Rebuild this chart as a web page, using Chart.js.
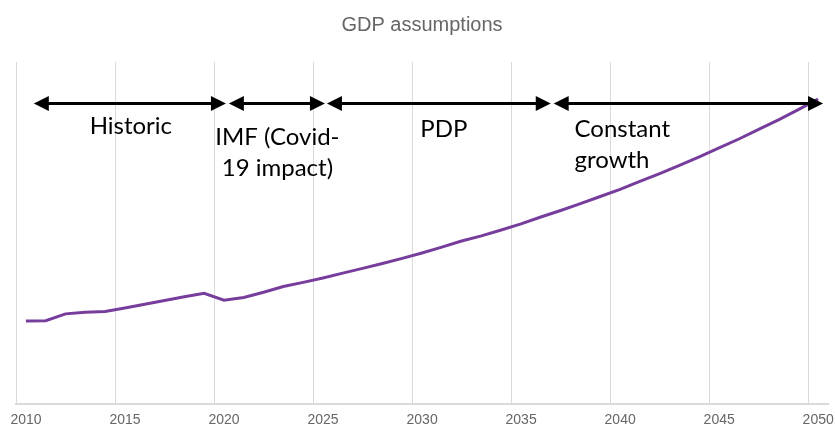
<!DOCTYPE html>
<html>
<head>
<meta charset="utf-8">
<title>GDP assumptions</title>
<script src="https://cdn.jsdelivr.net/npm/chart.js@4.4.1/dist/chart.umd.min.js"></script>
<style>
    html, body { margin: 0; padding: 0; background: #ffffff; }
    #wrap { width: 835px; height: 425px; }
</style>
</head>
<body>
<div id="wrap"><canvas id="gdpChart"></canvas></div>
<script>
// -------------------------------------------------
// Data: yearly GDP index (arbitrary units)
// -------------------------------------------------
const years = [
    2010, 2011, 2012, 2013, 2014, 2015, 2016, 2017, 2018, 2019,
    2020, 2021, 2022, 2023, 2024, 2025, 2026, 2027, 2028, 2029,
    2030, 2031, 2032, 2033, 2034, 2035, 2036, 2037, 2038, 2039,
    2040, 2041, 2042, 2043, 2044, 2045, 2046, 2047, 2048, 2049, 2050
];
const gdpValues = [
    243, 244, 264, 269, 271, 281, 292, 303, 314, 324,
    304, 312, 327, 344, 356, 369, 383, 397, 411, 426,
    442, 459, 477, 492, 509, 527, 547, 566, 586, 607,
    628, 651, 674, 698, 723, 749, 775, 803, 831, 861, 892
];
const tickYears = [2010, 2015, 2020, 2025, 2030, 2035, 2040, 2045, 2050];

// Assumption periods shown as double arrows above the line
const periodNames = [['Historic'], ['IMF (Covid-', '19 impact)'], ['PDP'], ['Constant', 'growth']];
const periodStart = [2010.9, 2020.75, 2025.7, 2037.15];
const periodEnd   = [2020.6, 2025.6, 2037.0, 2050.75];

// -------------------------------------------------
// Label placement for the periods (x in years, baselines in px below plot top)
// -------------------------------------------------
const periodLabelStyle = [
    { x: 2015.8, align: 'center', base: 72 },
    { x: 2023.2, align: 'center', base: 83 },
    { x: 2031.6, align: 'center', base: 75 },
    { x: 2038.2, align: 'left', base: 75 }
];

const periodArrows = {
    id: 'periodArrows',
    afterDatasetsDraw(chart) {
        const { ctx, chartArea, scales } = chart;
        const y = chartArea.top + 41.5;
        const headLen = 15, headHalf = 7.5;
        ctx.save();
        ctx.strokeStyle = '#000';
        ctx.fillStyle = '#000';
        ctx.lineWidth = 3;
        periodStart.forEach((start, i) => {
            const x1 = scales.x.getPixelForValue(start);
            const x2 = scales.x.getPixelForValue(periodEnd[i]);
            ctx.beginPath();
            ctx.moveTo(x1 + headLen - 2, y);
            ctx.lineTo(x2 - headLen + 2, y);
            ctx.stroke();
            // left head
            ctx.beginPath();
            ctx.moveTo(x1, y);
            ctx.lineTo(x1 + headLen, y - headHalf);
            ctx.lineTo(x1 + headLen, y + headHalf);
            ctx.closePath();
            ctx.fill();
            // right head
            ctx.beginPath();
            ctx.moveTo(x2, y);
            ctx.lineTo(x2 - headLen, y - headHalf);
            ctx.lineTo(x2 - headLen, y + headHalf);
            ctx.closePath();
            ctx.fill();
        });

        ctx.font = '24px Lato, "Open Sans", sans-serif';
        ctx.textBaseline = 'alphabetic';
        periodNames.forEach((lines, i) => {
            const st = periodLabelStyle[i];
            const x = scales.x.getPixelForValue(st.x);
            ctx.textAlign = st.align;
            lines.forEach((line, j) => {
                ctx.fillText(line, x, chartArea.top + st.base + j * 31);
            });
        });
        ctx.restore();
    }
};

document.addEventListener('DOMContentLoaded', () => {
    const ctx = document.getElementById('gdpChart').getContext('2d');
    new Chart(ctx, {
        type: 'line',
        data: {
            datasets: [{
                label: 'GDP',
                // yearly values plotted at mid-year
                data: years.map((yr, i) => ({ x: yr + 0.5, y: gdpValues[i] })),
                borderColor: '#773d9c',
                borderWidth: 3,
                pointRadius: 0,
                tension: 0,
                fill: false
            }]
        },
        options: {
            responsive: true,
            maintainAspectRatio: false,
            animation: false,
            layout: { padding: { left: 16, right: 7, top: 0, bottom: -12 } },
            plugins: {
                legend: { display: false },
                tooltip: { enabled: false },
                title: {
                    display: true,
                    text: 'GDP assumptions',
                    color: '#666666',
                    font: { family: '"Liberation Sans", Arial, sans-serif', size: 20, weight: 'normal' },
                    padding: { top: 13, bottom: 25 }
                }
            },
            scales: {
                x: {
                    type: 'linear',
                    min: 2010,
                    max: 2051,
                    afterBuildTicks: (scale) => {
                        scale.ticks = tickYears.map(v => ({ value: v }));
                    },
                    afterFit: (scale) => {
                        scale.paddingLeft = 0;
                        scale.paddingRight = 0;
                    },
                    grid: { color: '#d9d9d9', drawTicks: false, lineWidth: 1 },
                    border: { color: '#d9d9d9', width: 2 },
                    ticks: {
                        color: '#666666',
                        padding: 8,
                        labelOffset: 10,
                        maxRotation: 0,
                        font: { family: '"Liberation Sans", Arial, sans-serif', size: 14 },
                        callback: (v) => String(v)
                    }
                },
                y: {
                    display: false,
                    min: 0,
                    max: 1000
                }
            }
        },
        plugins: [periodArrows]
    });
});
</script>
</body>
</html>
